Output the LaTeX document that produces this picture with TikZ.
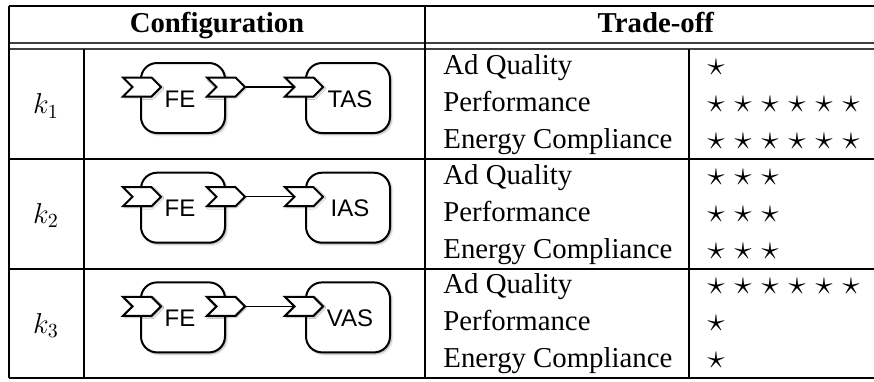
\documentclass[tikz,border=0pt]{standalone}
\usepackage{fontspec}
\setmainfont{Liberation Serif}
\newfontfamily\compfont{Liberation Sans}
\usetikzlibrary{shapes.symbols, shadows.blur, calc}

\tikzstyle{tabline}=[line width=0.6pt]
\tikzstyle{comp}=[draw, line width=1pt, rounded corners=8pt, fill=white, minimum width=42pt, minimum height=35pt,
    blur shadow={shadow xshift=0.8pt, shadow yshift=-0.8pt, shadow blur radius=1pt, shadow opacity=35}]
\tikzstyle{port}=[draw, line width=1pt, shape=signal, signal from=west, signal to=east, fill=white,
    minimum width=19pt, minimum height=9.5pt, inner sep=0pt,
    blur shadow={shadow xshift=0.6pt, shadow yshift=-0.6pt, shadow blur radius=0.8pt, shadow opacity=35}]
\tikzstyle{complabel}=[font=\compfont\fontsize{12}{14}\selectfont, inner sep=0pt]
\tikzstyle{crit}=[anchor=base west, inner sep=0pt]
\tikzstyle{rating}=[anchor=base, inner sep=0pt, font=\fontsize{17.28}{20}\selectfont]

\begin{document}
\begin{tikzpicture}[x=0.5pt, y=-0.5pt, font=\fontsize{14.4}{17}\selectfont]
    \useasboundingbox (0, 0) rectangle (874, 381);

    % table rules
    \draw[tabline] (9, 6) -- (874, 6);
    \draw[tabline, black!75] (9, 43) -- (874, 43);
    \draw[tabline, black!75] (9, 49) -- (874, 49);
    \draw[tabline] (9, 159) -- (874, 159);
    \draw[tabline] (9, 269) -- (874, 269);
    \draw[tabline] (9, 378) -- (874, 378);
    \draw[tabline] (9, 6) -- (9, 378);
    \draw[tabline] (84, 49) -- (84, 378);
    \draw[tabline] (425, 6) -- (425, 378);
    \draw[tabline] (689, 49) -- (689, 378);

    \node[anchor=base] (conf) at (217, 32) {\textbf{Configuration}};
    \node[anchor=base] (trade) at (656, 32) {\textbf{Trade-off}};

    \foreach \r/\sink/\qa/\qb/\qc in {0/TAS/1/6/6, 1/IAS/3/3/3, 2/VAS/6/1/1} {
        \pgfmathtruncatemacro\k{\r + 1}
        \node (k\r) at (46, 106 + 109.7*\r) {$k_{\k}$};

        \node[comp] (fe\r) at (183, 98 + 109.7*\r) {};
        \node[comp] (as\r) at (348, 98 + 109.7*\r) {};
        \node[port] (fein\r) at (142, 87 + 109.7*\r) {};
        \node[port] (feout\r) at (226, 87 + 109.7*\r) {};
        \node[port] (asin\r) at (304, 87 + 109.7*\r) {};
        \node[complabel] (fel\r) at (180, 99 + 109.7*\r) {FE};
        \node[complabel] (asl\r) at (350, 99 + 109.7*\r) {\sink};

        \draw[line width=0.6pt] (feout\r.east) -- (asin\r.west);

        \node[crit] (qual\r) at (443, 74.5 + 109.7*\r) {Ad Quality};
        \node[crit] (perf\r) at (443, 111.5 + 109.7*\r) {Performance};
        \node[crit] (ener\r) at (443, 148.5 + 109.7*\r) {Energy Compliance};

        \foreach \s in {1,...,\qa}
            \node[rating] (sa\r-\s) at ({689 + 27*\s}, 75.5 + 109.7*\r) {$\star$};
        \foreach \s in {1,...,\qb}
            \node[rating] (sb\r-\s) at ({689 + 27*\s}, 112.5 + 109.7*\r) {$\star$};
        \foreach \s in {1,...,\qc}
            \node[rating] (sc\r-\s) at ({689 + 27*\s}, 149.5 + 109.7*\r) {$\star$};
    }
\end{tikzpicture}
\end{document}
